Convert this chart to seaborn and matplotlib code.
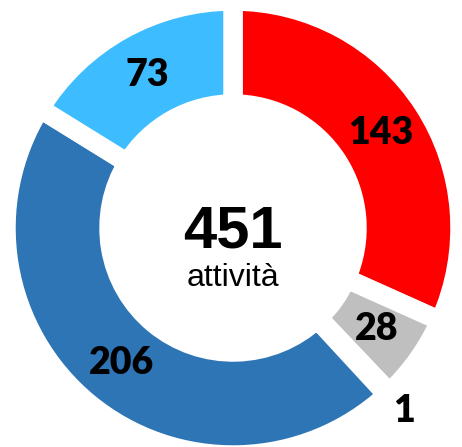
import numpy as np
import seaborn as sns
import matplotlib.pyplot as plt

# dati del grafico ad anello
categorie = ["rosso", "grigio", "altro", "blu", "azzurro"]
valori = [143, 28, 1, 206, 73]
colori = ["#FF0000", "#BFBFBF", "#A6A6A6", "#2E75B6", "#3DBCFF"]
totale = sum(valori)
etichetta_centro = "attività"

sns.set_style("white")
plt.rcParams["text.color"] = "black"

fig = plt.figure(figsize=(4.62, 4.47), dpi=100)
ax = fig.add_axes([0, 0, 1, 1])

centro = (233, 219)
r_est = 227
spessore = 103

wedges, _ = ax.pie(
    valori,
    colors=colori,
    startangle=90,
    counterclock=False,
    radius=r_est,
    center=centro,
    frame=False,
    wedgeprops=dict(width=spessore, edgecolor="white", linewidth=14, joinstyle="miter"),
)

ax.set_xlim(0, 462)
ax.set_ylim(0, 447)
ax.set_aspect("equal")
ax.axis("off")

# etichette dei valori, posizionate a metà della corona
r_mid = r_est - spessore / 2
for w, v in zip(wedges, valori):
    ang = np.deg2rad((w.theta1 + w.theta2) / 2)
    r = r_mid if v / totale > 0.02 else r_est + 23
    ax.text(centro[0] + r * np.cos(ang), centro[1] + r * np.sin(ang), str(v),
            ha="center", va="center", fontsize=27, fontweight="heavy",
            family="Lato", color="black")

ax.text(centro[0], centro[1] - 19, str(totale), ha="center", va="baseline",
        fontsize=43, fontweight="bold", family="Liberation Sans", color="black")
ax.text(centro[0], centro[1] - 58, etichetta_centro, ha="center", va="baseline",
        fontsize=23, family="Liberation Sans", color="black")

plt.savefig("out.png", dpi=100)
